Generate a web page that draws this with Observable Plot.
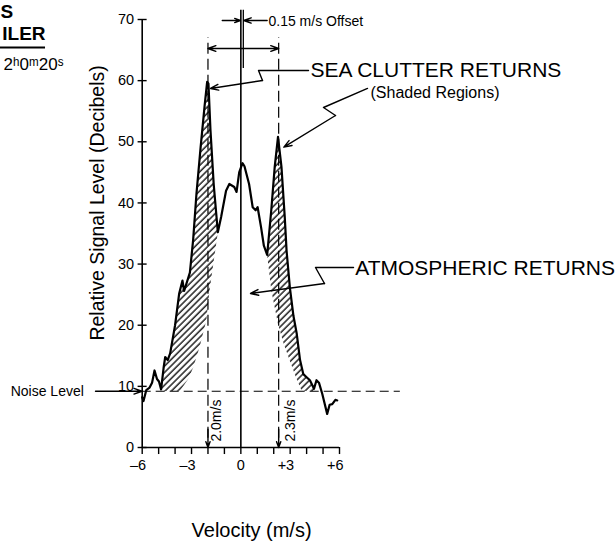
<!DOCTYPE html>
<html><head><meta charset="utf-8">
<script src="https://cdn.jsdelivr.net/npm/d3@7"></script>
<script src="https://cdn.jsdelivr.net/npm/@observablehq/plot@0.6"></script>
<style>
html,body{margin:0;padding:0;background:#fff;}
#chart{position:relative;width:616px;height:542px;overflow:hidden;background:#fff;}
</style></head><body><div id="chart"></div>
<script>
// ---- data ----
const totalVelocity = [-6.0,-5.92,-5.75,-5.55,-5.4,-5.25,-5.1,-4.98,-4.85,-4.7,-4.6,-4.45,-4.3,-4.0,-3.75,-3.55,-3.45,-3.1,-2.9,-2.7,-2.45,-2.2,-2.05,-1.97,-1.85,-1.65,-1.4,-1.2,-0.9,-0.7,-0.4,-0.26,-0.1,0.1,0.22,0.5,0.72,0.9,1.02,1.23,1.4,1.6,1.85,2.06,2.26,2.47,2.67,2.78,2.98,3.2,3.4,3.6,3.8,4.0,4.2,4.45,4.6,4.75,4.95,5.25,5.4,5.56,5.75,5.86];
const totalSignal = [8.2,7.6,9.4,9.8,10.6,12.6,11.2,10.8,9.5,13.0,14.8,14.3,15.4,20.0,25.2,27.3,25.6,28.6,34.0,41.5,49.0,56.0,59.8,59.5,52.0,43.0,35.2,37.7,42.0,43.1,42.6,41.8,45.0,46.5,46.0,43.1,39.3,38.8,39.3,36.0,33.0,31.5,38.8,45.9,50.8,45.9,37.7,32.2,26.2,21.5,18.6,14.3,12.0,11.5,11.0,9.6,11.0,10.6,8.8,5.5,7.0,7.1,7.8,7.7];
const atmLeftVelocity = [-4.85,-3.7,-3.2,-2.9,-2.5,-2.1,-1.9,-1.65,-1.4];
const atmLeftSignal = [9.2,9.3,11.2,13.1,16.5,20.8,25.7,30.5,35.2];
const atmRightVelocity = [1.6,1.85,2.26,2.6,2.98,3.35,3.7,4.45];
const atmRightSignal = [31.5,25.7,20.2,17.0,14.2,11.5,9.3,9.2];
const noiseLevel = 9.2;
const clutterVelocities = [-2.0, 2.3];
const clutterLabels = ["2.0m/s", "2.3m/s"];
const offsetVelocity = 0.15;
const yTicks = [0,10,20,30,40,50,60,70];
const xTicks = [-6,-5,-4,-3,-2,-1,0,1,2,3,4,5,6];
const xLabelValues = [-6,-3,0,3,6];
const xLabelTexts = ["\u20136","\u20133","0","+3","+6"];

// ---- build tables ----
const total = totalVelocity.map((v,i)=>({v, s: totalSignal[i]}));
const atmL = atmLeftVelocity.map((v,i)=>({v, s: atmLeftSignal[i]}));
const atmR = atmRightVelocity.map((v,i)=>({v, s: atmRightSignal[i]}));
const shadeL = total.filter(d=>d.v>=atmLeftVelocity[0] && d.v<=atmLeftVelocity[atmLeftVelocity.length-1]).concat(atmL.slice().reverse());
const shadeR = total.filter(d=>d.v>=atmRightVelocity[0] && d.v<=atmRightVelocity[atmRightVelocity.length-1]).concat(atmR.slice().reverse());

const FONT = "'Liberation Sans', Arial, Helvetica, sans-serif";
const A = {stroke:"black", strokeWidth:1.4, headLength:9, headAngle:40};

const svg = Plot.plot({
  width: 616, height: 542,
  marginLeft: 141.7, marginRight: 277, marginTop: 19, marginBottom: 95,
  x: {domain:[-6,6], axis:null},
  y: {domain:[0,70], axis:null},
  style: {fontFamily: FONT, background:"white", color:"black", overflow:"visible"},
  marks: [
    // hatched sea-clutter regions
    Plot.line(shadeL, {x:"v", y:"s", fill:"url(#hatch)", stroke:"none"}),
    Plot.line(shadeR, {x:"v", y:"s", fill:"url(#hatch)", stroke:"none"}),
    // axes
    Plot.ruleX([-6], {y1:0, y2:70, stroke:"black", strokeWidth:1.6}),
    Plot.ruleY([0], {x1:-6, x2:6, stroke:"black", strokeWidth:1.6}),
    Plot.ruleY(yTicks, {y:d=>d, x1:-6.25, x2:-5.7, stroke:"black", strokeWidth:1.4}),
    Plot.ruleX(xTicks, {x:d=>d, y1:0, y2:-1.15, stroke:"black", strokeWidth:1.4}),
    Plot.text(yTicks, {x:-6, y:d=>d, text:d=>String(d), dx:-8, textAnchor:"end", fontSize:14.5, fill:"black"}),
    Plot.text(xLabelValues, {x:d=>d, y:0, text:(d,i)=>xLabelTexts[i], dx:4, dy:18, textAnchor:"end", fontSize:14.5, fill:"black"}),
    // noise level
    Plot.ruleY([noiseLevel], {x1:-6, x2:9.7, stroke:"black", strokeWidth:1.1, strokeDasharray:"9,5"}),
    Plot.arrow([noiseLevel], {x1:-8.84, x2:-6.02, y1:d=>d, y2:d=>d, ...A}),
    Plot.text(["Noise Level"], {x:-14.0, y:noiseLevel, text:d=>d, textAnchor:"start", fontSize:14, fill:"black"}),
    // center line and offset line
    Plot.ruleX([0], {y1:0, y2:71.5, stroke:"black", strokeWidth:1.6}),
    Plot.ruleX([offsetVelocity], {y1:62, y2:71.5, stroke:"black", strokeWidth:1.3}),
    Plot.arrow([0], {x1:-1.13, x2:d=>d-0.03, y1:69.84, y2:69.84, ...A}),
    Plot.arrow([offsetVelocity], {x1:1.6, x2:d=>d+0.03, y1:69.84, y2:69.84, ...A}),
    Plot.text(["0.15 m/s Offset"], {x:1.68, y:69.67, text:d=>d, textAnchor:"start", fontSize:14, fill:"black"}),
    // clutter dashed lines
    Plot.ruleX(clutterVelocities, {x:d=>d, y1:1.5, y2:67, stroke:"black", strokeWidth:1.2, strokeDasharray:"11,5"}),
    Plot.arrow(clutterVelocities, {x1:d=>d, x2:d=>d, y1:3, y2:0, ...A}),
    Plot.arrow(clutterVelocities, {x1:0, x2:d=>d, y1:65.26, y2:65.26, ...A}),
    Plot.text(clutterVelocities, {x:(d,i)=>d + (i===0 ? 0.52 : 0.7), y:4.4, text:(d,i)=>clutterLabels[i], rotate:-90, fontSize:14, fill:"black"}),
    // total spectrum
    Plot.line(total, {x:"v", y:"s", stroke:"black", strokeWidth:2.2, strokeLinejoin:"round"}),
    // annotation: sea clutter
    Plot.text(["SEA CLUTTER RETURNS"], {x:4.236, y:61.66, text:d=>d, textAnchor:"start", fontSize:21, fill:"black"}),
    Plot.text(["(Shaded Regions)"], {x:7.886, y:58.06, text:d=>d, textAnchor:"start", fontSize:16, fill:"black"}),
    Plot.line([{v:4.115,s:61.66},{v:1.074,s:61.66},{v:1.317,s:60.03}], {x:"v", y:"s", stroke:"black", strokeWidth:1.4}),
    Plot.arrow([0], {x1:1.317, y1:60.03, x2:-1.846, y2:58.72, ...A}),
    Plot.line([{v:7.704,s:58.72},{v:5.027,s:55.61},{v:5.757,s:54.3}], {x:"v", y:"s", stroke:"black", strokeWidth:1.4}),
    Plot.arrow([0], {x1:5.757, y1:54.3, x2:2.613, y2:49.12, ...A}),
    // annotation: atmospheric
    Plot.text(["ATMOSPHERIC RETURNS"], {x:6.955, y:29.28, text:d=>d, textAnchor:"start", fontSize:21, fill:"black"}),
    Plot.line([{v:6.852,s:29.44},{v:4.54,s:29.44},{v:5.088,s:26.82}], {x:"v", y:"s", stroke:"black", strokeWidth:1.4}),
    Plot.arrow([0], {x1:5.088, y1:26.82, x2:0.587, y2:25.19, ...A}),
    // axis titles
    Plot.text(["Relative Signal Level (Decibels)"], {x:-8.72, y:40.0, text:d=>d, rotate:-90, fontSize:19.5, fill:"black"}),
    Plot.text(["Velocity (m/s)"], {x:0.65, y:-13.6, text:d=>d, fontSize:20, fill:"black"}),
    // cut-off title fragments at top-left
    Plot.text(["S"], {x:-13.84, y:71.2, text:d=>d, textAnchor:"end", fontSize:19, fontWeight:"bold", fill:"black"}),
    Plot.text(["ILER"], {x:-11.88, y:67.63, text:d=>d, textAnchor:"end", fontSize:19, fontWeight:"bold", fill:"black"}),
    Plot.ruleY([65.43], {x1:-14.7, x2:-11.88, stroke:"black", strokeWidth:2}),
    Plot.text(["2\u02B00\u1D5020\u02E2"], {x:-10.79, y:62.6, text:d=>d, textAnchor:"end", fontSize:17, fill:"black"})
  ]
});

// hatch pattern
const defs = d3.select(svg).insert("defs", ":first-child");
const pat = defs.append("pattern").attr("id","hatch").attr("patternUnits","userSpaceOnUse")
  .attr("width",4.5).attr("height",4.5).attr("patternTransform","rotate(45)");
pat.append("rect").attr("width",4.5).attr("height",4.5).attr("fill","white");
pat.append("line").attr("x1",1).attr("y1",-1).attr("x2",1).attr("y2",6).attr("stroke","black").attr("stroke-width",1.3);

document.getElementById("chart").appendChild(svg);
</script>
</body></html>
